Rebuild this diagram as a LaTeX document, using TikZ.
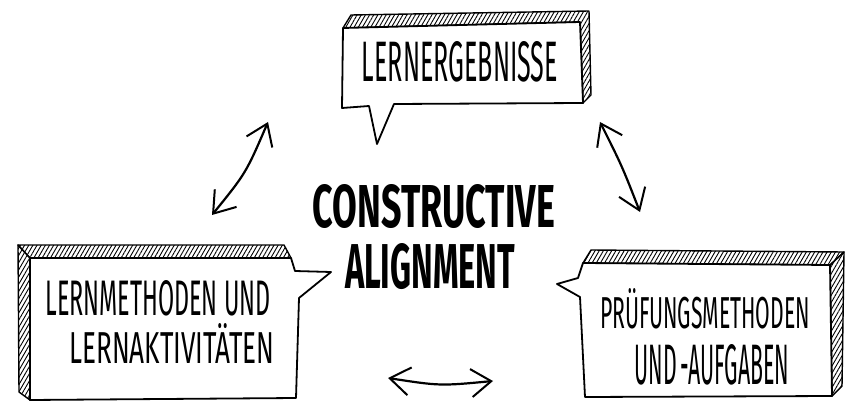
\documentclass[tikz,border=0pt]{standalone}
\usepackage{fontspec}
\usepackage{graphicx}
\newfontfamily\hand{Fira Sans}
\usetikzlibrary{arrows.meta,patterns.meta}
\tikzset{
  box/.style={draw=black,line width=1.8pt,line join=round,fill=white},
  band/.style={draw=black,line width=1.4pt,line join=round,pattern={Lines[angle=60,distance=3.6pt,line width=0.9pt]}},
  lbl/.style={inner sep=0pt,anchor=center},
  barb/.tip={Straight Barb[length=20pt,width=28pt,line width=2pt]},
  twoway/.style={line width=2.2pt,line cap=round,barb-barb}
}
\begin{document}
\begin{tikzpicture}[x=1pt,y=-1pt]
\useasboundingbox (0,0) rectangle (845,403);
% ---------- top box
\draw[band] (343,28) -- (351,15) -- (589,11) -- (591,95) -- (583,103) -- (580,22) -- cycle;
\draw[box] (343,28) -- (580,22) -- (583,103) -- (394,104) -- (377,144) -- (369,106) -- (342,108) -- cycle;
\node[lbl] (top) at (460,62) {\resizebox{196pt}{40pt}{\hand LERNERGEBNISSE}};
% ---------- left box
\draw[band] (30,258) -- (18,245) -- (284,245) -- (291,258) -- cycle;
\draw[band] (30,258) -- (18,245) -- (19,392) -- (30,400) -- cycle;
\draw[box] (30,258) -- (291,258) -- (295,271) -- (331,272) -- (299,298) -- (296,398) -- (30,400) -- cycle;
\node[lbl] (l1) at (158,298) {\resizebox{225pt}{35pt}{\hand LERNMETHODEN UND}};
\node[lbl] (l2) at (172,343) {\resizebox{205pt}{40pt}{\hand LERNAKTIVITÄTEN}};
% ---------- right box
\draw[band] (583,263) -- (591,250) -- (844,252) -- (830,265) -- cycle;
\draw[band] (830,265) -- (844,252) -- (842,386) -- (832,396) -- cycle;
\draw[box] (583,263) -- (830,265) -- (832,396) -- (585,397) -- (580,297) -- (557,284) -- (578,278) -- cycle;
\node[lbl] (r1) at (705,309) {\resizebox{210pt}{40pt}{\hand PRÜFUNGSMETHODEN}};
\node[lbl] (r2) at (712,365) {\resizebox{155pt}{40pt}{\hand UND\,-AUFGABEN}};
% ---------- centre
\node[lbl] (c1) at (434,207) {\resizebox{242pt}{43pt}{\hand\bfseries CONSTRUCTIVE}};
\node[lbl] (c2) at (430,267) {\resizebox{170pt}{45pt}{\hand\bfseries ALIGNMENT}};
% ---------- arrows
\coordinate (a1) at (212,215);
\coordinate (a2) at (268,122);
\coordinate (ac) at (246,173);
\coordinate (b1) at (600,122);
\coordinate (b2) at (640,212);
\coordinate (bc) at (622,166);
\coordinate (d1) at (388,378);
\coordinate (d2) at (493,381);
\coordinate (dc) at (440,386);
\draw[twoway] (a1) .. controls (ac) .. (a2);
\draw[twoway] (b1) .. controls (bc) .. (b2);
\draw[twoway] (d1) .. controls (dc) .. (d2);
\end{tikzpicture}
\end{document}
